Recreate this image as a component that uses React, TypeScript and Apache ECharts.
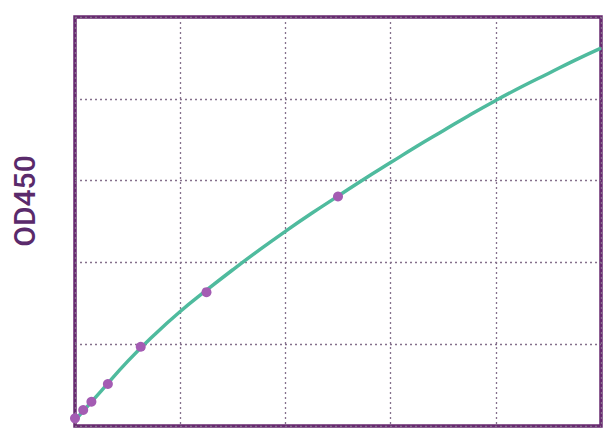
import React, { useEffect, useRef } from "react";
import * as echarts from "echarts";

// Standard points (concentration, OD450)
const standardConc = [0, 0.078, 0.156, 0.3125, 0.625, 1.25, 2.5];
const standardOD = [0.094, 0.196, 0.297, 0.513, 0.969, 1.636, 2.806];

// Fitted curve (every 0.25 on the x scale)
const curveConc = [0, 0.25, 0.5, 0.75, 1.0, 1.25, 1.5, 1.75, 2.0, 2.25, 2.5, 2.75, 3.0, 3.25, 3.5, 3.75, 4.0, 4.25, 4.5, 4.75, 5.0];
const curveOD = [0.07, 0.43, 0.79, 1.11, 1.4, 1.66, 1.91, 2.15, 2.38, 2.6, 2.81, 3.02, 3.22, 3.42, 3.61, 3.8, 3.98, 4.15, 4.31, 4.47, 4.62];

const yAxisTitle = "OD450";

export default function App() {
  const ref = useRef<HTMLDivElement>(null);
  useEffect(() => {
    document.body.style.margin = "0";
    const chart = echarts.init(ref.current!, null, { renderer: "svg" });
    chart.setOption({
      animation: false,
      backgroundColor: "#ffffff",
      grid: {
        left: 75,
        right: 7,
        top: 17,
        bottom: 11,
        show: true,
        borderColor: "#682a70",
        borderWidth: 3.5,
        backgroundColor: "transparent",
      },
      xAxis: {
        type: "value",
        min: 0,
        max: 5,
        interval: 1,
        axisLine: { show: false },
        axisTick: { show: false },
        axisLabel: { show: false },
        splitLine: { show: true, lineStyle: { type: [2, 3], color: "#85708c", width: 1.3 } },
      },
      yAxis: {
        type: "value",
        min: 0,
        max: 5,
        interval: 1,
        axisLine: { show: false },
        axisTick: { show: false },
        axisLabel: { show: false },
        splitLine: { show: true, lineStyle: { type: [2, 3], color: "#85708c", width: 1.3 } },
      },
      graphic: [
        {
          type: "text",
          x: 24,
          y: 201,
          rotation: Math.PI / 2,
          style: {
            text: yAxisTitle,
            fontFamily: "Roboto",
            fontSize: 30,
            fontWeight: 500,
            fill: "#5a2a6b",
            textAlign: "center",
            textVerticalAlign: "middle",
          },
        },
      ],
      series: [
        {
          type: "line",
          data: curveConc.map((x, i) => [x, curveOD[i]]),
          smooth: true,
          showSymbol: false,
          lineStyle: { color: "#4fbb9e", width: 3.5 },
          z: 2,
        },
        {
          type: "scatter",
          data: standardConc.map((x, i) => [x, standardOD[i]]),
          symbolSize: 10,
          itemStyle: { color: "#a45cb3", opacity: 1 },
          z: 3,
        },
      ],
    });
    return () => chart.dispose();
  }, []);
  return <div ref={ref} style={{ width: 608, height: 437 }} />;
}
